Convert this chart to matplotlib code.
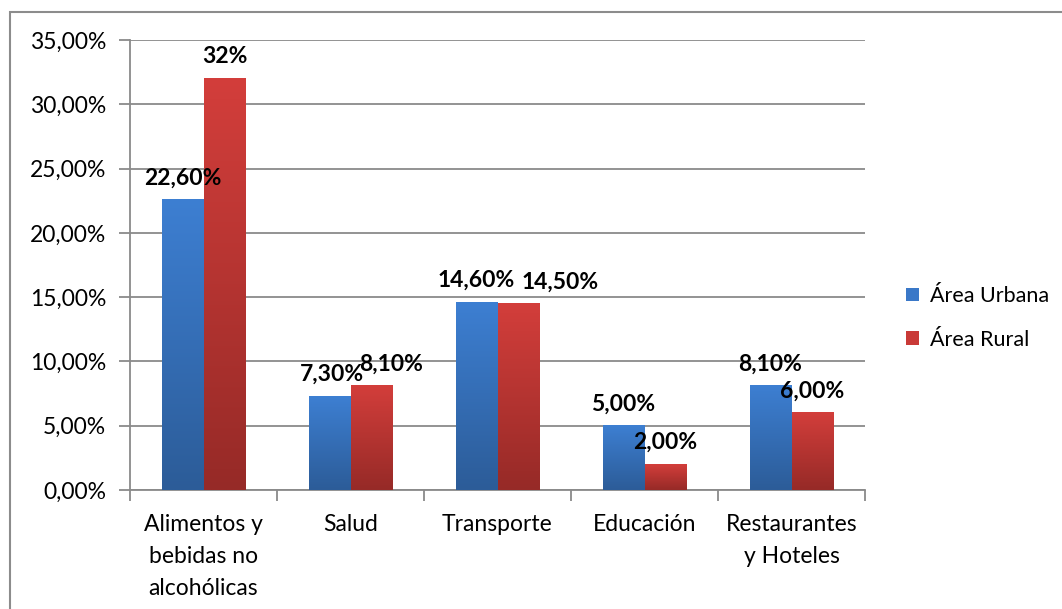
import matplotlib
matplotlib.use("Agg")
import matplotlib.pyplot as plt
import numpy as np
from matplotlib.patches import Rectangle, Patch
from matplotlib.ticker import FuncFormatter, MultipleLocator
from matplotlib.colors import LinearSegmentedColormap

categories = ["Alimentos y\nbebidas no\nalcohólicas", "Salud", "Transporte", "Educación", "Restaurantes\ny Hoteles"]
series_names = ["Área Urbana", "Área Rural"]
urbana = [22.6, 7.3, 14.6, 5.0, 8.1]
rural = [32.0, 8.1, 14.5, 2.0, 6.0]
urbana_labels = ["22,60%", "7,30%", "14,60%", "5,00%", "8,10%"]
rural_labels = ["32%", "8,10%", "14,50%", "2,00%", "6,00%"]

# horizontal label shifts (points) used to avoid overlapping labels
urbana_dx = [0, 2, 0, 0, 0]
rural_dx = [0, 14, 30, 0, 0]

plt.rcParams['font.family'] = ['Lato', 'DejaVu Sans']

fig = plt.figure(figsize=(10.62, 6.09), dpi=100)
ax = fig.add_axes([130/1062, 1-490/609, 735/1062, 450/609])

# outer border
fig.patches.append(Rectangle((10/1062, -0.01), 1.05, 1-12/609+0.01, transform=fig.transFigure,
                             fill=False, edgecolor="#8c8c8c", linewidth=1.5, zorder=0))

x = np.arange(len(categories))
w = 42/147
blue_cmap = LinearSegmentedColormap.from_list("b", ["#2c5c98", "#3d7fd2"])
red_cmap = LinearSegmentedColormap.from_list("r", ["#962a27", "#d33e3b"])

bars_u = ax.bar(x - w/2, urbana, w, color="#3a78c8", label=series_names[0], zorder=3)
bars_r = ax.bar(x + w/2, rural, w, color="#c93a37", label=series_names[1], zorder=3)

grad = np.linspace(0, 1, 256).reshape(-1, 1)
for bars, cmap in ((bars_u, blue_cmap), (bars_r, red_cmap)):
    for b in bars:
        x0, wd, h = b.get_x(), b.get_width(), b.get_height()
        ax.imshow(grad, extent=[x0, x0 + wd, 0, h], origin="lower", aspect="auto",
                  cmap=cmap, zorder=3.5, interpolation="bilinear")

for bars, labels, dxs in ((bars_u, urbana_labels, urbana_dx), (bars_r, rural_labels, rural_dx)):
    for b, lab, dx in zip(bars, labels, dxs):
        ax.annotate(lab, (b.get_x() + b.get_width()/2, b.get_height()),
                    xytext=(dx, 8), textcoords="offset points", ha="center", va="bottom",
                    fontsize=16.5, fontweight="bold", color="black", zorder=5)

ax.set_xlim(-0.5, len(categories) - 0.5)
ax.set_ylim(0, 35)
ax.yaxis.set_major_locator(MultipleLocator(5))
ax.yaxis.set_major_formatter(FuncFormatter(lambda v, p: f"{v:.2f}%".replace(".", ",")))
ax.grid(axis="y", color="#8a8a8a", linewidth=1.3, zorder=0)
ax.set_axisbelow(True)

ax.set_xticks(np.arange(len(categories) + 1) - 0.5)
ax.set_xticklabels([])
ax.set_xticks(x, minor=True)
ax.set_xticklabels(categories, minor=True, fontsize=16.5, linespacing=1.65)
ax.tick_params(axis="x", which="minor", length=0, pad=17)
ax.tick_params(axis="x", which="major", length=8, width=1.3, color="#8a8a8a")
ax.tick_params(axis="y", length=8, width=1.3, color="#8a8a8a", labelsize=16.5, pad=9)

for s in ("top", "right"):
    ax.spines[s].set_visible(False)
for s in ("left", "bottom"):
    ax.spines[s].set_color("#8a8a8a")
    ax.spines[s].set_linewidth(1.3)

handles = [Patch(facecolor="#3a78c8"), Patch(facecolor="#c93a37")]
fig.legend(handles, series_names, loc="center left", bbox_to_anchor=(906/1062, 1-318/609),
           frameon=False, fontsize=15.5, handlelength=0.6, handleheight=0.6,
           handletextpad=0.5, labelspacing=1.1, borderaxespad=0, borderpad=0)

fig.savefig("out.png", dpi=100)
